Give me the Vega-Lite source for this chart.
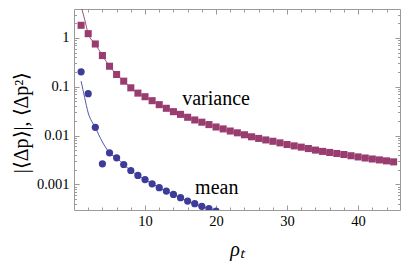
{
  "$schema": "https://vega.github.io/schema/vega-lite/v6.json",
  "width": 326,
  "height": 201,
  "autosize": "none",
  "padding": {"left": 74, "top": 9, "right": 9, "bottom": 56},
  "background": "white",
  "config": {
    "view": {"stroke": null},
    "font": "Liberation Serif",
    "axis": {"labelColor": "black", "titleColor": "black", "domainColor": "#9a9a9a", "tickColor": "#9a9a9a", "grid": false}
  },
  "datasets": {
    "variance": [
      {"rho": 1, "v": 1.81}, {"rho": 2, "v": 1.22}, {"rho": 3, "v": 0.75}, {"rho": 4, "v": 0.435}, {"rho": 5, "v": 0.263},
      {"rho": 6, "v": 0.178}, {"rho": 7, "v": 0.13}, {"rho": 8, "v": 0.095}, {"rho": 9, "v": 0.074}, {"rho": 10, "v": 0.0625},
      {"rho": 11, "v": 0.0518}, {"rho": 12, "v": 0.043}, {"rho": 13, "v": 0.0362}, {"rho": 14, "v": 0.0309}, {"rho": 15, "v": 0.0272},
      {"rho": 16, "v": 0.0237}, {"rho": 17, "v": 0.0209}, {"rho": 18, "v": 0.0188}, {"rho": 19, "v": 0.0168}, {"rho": 20, "v": 0.0150},
      {"rho": 21, "v": 0.0137}, {"rho": 22, "v": 0.0124}, {"rho": 23, "v": 0.0114}, {"rho": 24, "v": 0.0104}, {"rho": 25, "v": 0.00945},
      {"rho": 26, "v": 0.00875}, {"rho": 27, "v": 0.00815}, {"rho": 28, "v": 0.00765}, {"rho": 29, "v": 0.0071}, {"rho": 30, "v": 0.00657},
      {"rho": 31, "v": 0.00616}, {"rho": 32, "v": 0.0058}, {"rho": 33, "v": 0.00543}, {"rho": 34, "v": 0.00505}, {"rho": 35, "v": 0.00475},
      {"rho": 36, "v": 0.00452}, {"rho": 37, "v": 0.0043}, {"rho": 38, "v": 0.0041}, {"rho": 39, "v": 0.00387}, {"rho": 40, "v": 0.00366},
      {"rho": 41, "v": 0.00348}, {"rho": 42, "v": 0.00332}, {"rho": 43, "v": 0.00318}, {"rho": 44, "v": 0.00304}, {"rho": 45, "v": 0.0029}
    ],
    "mean": [
      {"rho": 1, "m": 0.202}, {"rho": 2, "m": 0.072}, {"rho": 3, "m": 0.0148}, {"rho": 4, "m": 0.00264}, {"rho": 5, "m": 0.00443},
      {"rho": 6, "m": 0.00351}, {"rho": 7, "m": 0.00256}, {"rho": 8, "m": 0.00193}, {"rho": 9, "m": 0.00153}, {"rho": 10, "m": 0.00126},
      {"rho": 11, "m": 0.00103}, {"rho": 12, "m": 0.000857}, {"rho": 13, "m": 0.000733}, {"rho": 14, "m": 0.000625}, {"rho": 15, "m": 0.000535},
      {"rho": 16, "m": 0.000458}, {"rho": 17, "m": 0.000404}, {"rho": 18, "m": 0.000356}, {"rho": 19, "m": 0.000319}, {"rho": 20, "m": 0.000284},
      {"rho": 21, "m": 0.000252}
    ],
    "vline": [
      {"rho": 1.1, "v": 3.9}, {"rho": 1.5, "v": 2.4}, {"rho": 2, "v": 1.22}, {"rho": 3, "v": 0.75}, {"rho": 4, "v": 0.435}, {"rho": 5, "v": 0.263},
      {"rho": 6, "v": 0.178}, {"rho": 7, "v": 0.13}, {"rho": 8, "v": 0.095}, {"rho": 9, "v": 0.074}, {"rho": 10, "v": 0.0625},
      {"rho": 12, "v": 0.043}, {"rho": 14, "v": 0.0309}, {"rho": 16, "v": 0.0237}, {"rho": 18, "v": 0.0188}, {"rho": 20, "v": 0.015},
      {"rho": 25, "v": 0.00945}, {"rho": 30, "v": 0.00657}, {"rho": 35, "v": 0.00475}, {"rho": 40, "v": 0.00366}, {"rho": 45, "v": 0.0029}
    ],
    "mline": [
      {"rho": 1.0, "m": 0.13}, {"rho": 1.25, "m": 0.088}, {"rho": 1.5, "m": 0.06}, {"rho": 1.75, "m": 0.041}, {"rho": 2.0, "m": 0.029},
      {"rho": 2.5, "m": 0.0195}, {"rho": 3, "m": 0.0148}, {"rho": 3.5, "m": 0.0103}, {"rho": 4, "m": 0.0074}, {"rho": 4.5, "m": 0.0056},
      {"rho": 5, "m": 0.0044}, {"rho": 6, "m": 0.0035}, {"rho": 7, "m": 0.00256}, {"rho": 8, "m": 0.00193}, {"rho": 9, "m": 0.00153},
      {"rho": 10, "m": 0.00126}, {"rho": 12, "m": 0.000857}, {"rho": 14, "m": 0.000625}, {"rho": 16, "m": 0.000458}, {"rho": 18, "m": 0.000356},
      {"rho": 20, "m": 0.000284}, {"rho": 22, "m": 0.000225}
    ],
    "labels": [
      {"rho": 20.0, "val": 0.055, "txt": "variance"},
      {"rho": 20.1, "val": 0.00085, "txt": "mean"}
    ]
  },
  "resolve": {"axis": {"x": "independent", "y": "independent"}},
  "layer": [
    {
      "data": {"name": "vline"},
      "mark": {"type": "line", "color": "#a0507e", "strokeWidth": 1, "clip": true, "interpolate": "monotone"},
      "encoding": {
        "x": {"field": "rho", "type": "quantitative", "scale": {"domain": [0, 45.9], "nice": false, "zero": false},
              "axis": {"orient": "top", "values": [10, 20, 30, 40], "labels": false, "tickSize": -5, "title": null}},
        "y": {"field": "v", "type": "quantitative", "scale": {"type": "log", "domain": [0.0003, 3.9], "nice": false},
              "axis": {"orient": "right", "values": [0.001, 0.01, 0.1, 1], "labels": false, "tickSize": -5, "title": null}}
      }
    },
    {
      "data": {"name": "mline"},
      "mark": {"type": "line", "color": "#5656a8", "strokeWidth": 1, "clip": true, "interpolate": "monotone"},
      "encoding": {
        "x": {"field": "rho", "type": "quantitative",
              "axis": {"orient": "top", "values": [2, 4, 6, 8, 12, 14, 16, 18, 22, 24, 26, 28, 32, 34, 36, 38, 42, 44], "labels": false, "domain": false, "tickSize": -3, "title": null}},
        "y": {"field": "m", "type": "quantitative",
              "axis": {"orient": "right", "values": [0.0004, 0.0005, 0.0006, 0.0007, 0.0008, 0.0009, 0.002, 0.003, 0.004, 0.005, 0.006, 0.007, 0.008, 0.009, 0.02, 0.03, 0.04, 0.05, 0.06, 0.07, 0.08, 0.09, 0.2, 0.3, 0.4, 0.5, 0.6, 0.7, 0.8, 0.9, 2, 3], "labels": false, "domain": false, "tickSize": -2.5, "title": null}}
      }
    },
    {
      "data": {"name": "variance"},
      "mark": {"type": "point", "shape": "square", "filled": true, "color": "#993d71", "opacity": 1, "size": 50, "clip": true},
      "encoding": {
        "x": {"field": "rho", "type": "quantitative",
              "axis": {"orient": "bottom", "values": [10, 20, 30, 40], "tickSize": -5, "labelPadding": 9, "labelFont": "Liberation Serif", "labelFontSize": 14.5, "title": "ρₜ", "titleFont": "Liberation Serif", "titleFontSize": 20, "titleFontStyle": "italic", "titleFontWeight": "normal", "titlePadding": 12}},
        "y": {"field": "v", "type": "quantitative",
              "axis": {"orient": "left", "values": [0.001, 0.01, 0.1, 1], "labelExpr": "datum.value + ''", "tickSize": -5, "labelPadding": 10, "labelFont": "Liberation Serif", "labelFontSize": 14.5, "title": "|⟨Δp⟩|, ⟨Δp²⟩", "titleFont": "Liberation Serif", "titleFontSize": 20, "titleFontWeight": "normal", "titleX": -53, "titleY": 113, "titleAngle": -90, "titleBaseline": "middle", "titleAlign": "center"}}
      }
    },
    {
      "data": {"name": "mean"},
      "mark": {"type": "circle", "color": "#3d3d99", "opacity": 1, "size": 52, "clip": true},
      "encoding": {
        "x": {"field": "rho", "type": "quantitative",
              "axis": {"orient": "bottom", "values": [2, 4, 6, 8, 12, 14, 16, 18, 22, 24, 26, 28, 32, 34, 36, 38, 42, 44], "labels": false, "domain": false, "tickSize": -3, "title": null}},
        "y": {"field": "m", "type": "quantitative",
              "axis": {"orient": "left", "values": [0.0004, 0.0005, 0.0006, 0.0007, 0.0008, 0.0009, 0.002, 0.003, 0.004, 0.005, 0.006, 0.007, 0.008, 0.009, 0.02, 0.03, 0.04, 0.05, 0.06, 0.07, 0.08, 0.09, 0.2, 0.3, 0.4, 0.5, 0.6, 0.7, 0.8, 0.9, 2, 3], "labels": false, "domain": false, "tickSize": -2.5, "title": null}}
      }
    },
    {
      "data": {"name": "labels"},
      "mark": {"type": "text", "font": "Liberation Serif", "fontSize": 20, "color": "black", "align": "center", "baseline": "middle"},
      "encoding": {
        "x": {"field": "rho", "type": "quantitative", "axis": null},
        "y": {"field": "val", "type": "quantitative", "axis": null},
        "text": {"field": "txt"}
      }
    }
  ]
}
